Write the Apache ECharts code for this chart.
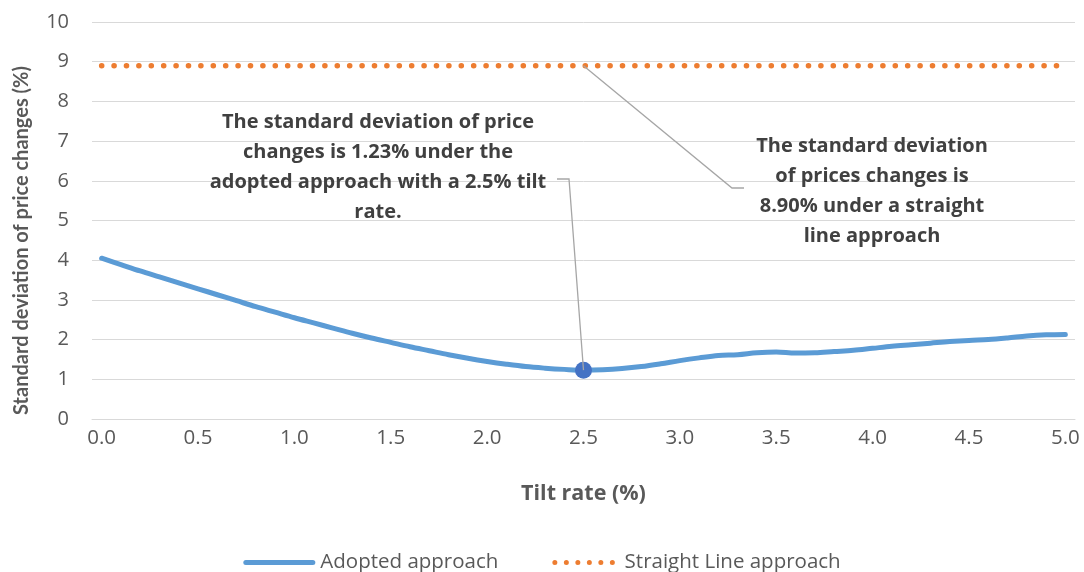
<!DOCTYPE html>
<html>
<head>
<meta charset="utf-8">
<script src="https://cdn.jsdelivr.net/npm/echarts@6/dist/echarts.min.js"></script>
<style>
  html, body { margin: 0; padding: 0; background: #ffffff; }
  #chart { width: 1084px; height: 572px; }
</style>
</head>
<body>
<div id="chart"></div>
<script>
// Tilt rate (%) categories, 0.0 to 5.0 in steps of 0.1
const tiltRates = [
  '0.0','0.1','0.2','0.3','0.4','0.5','0.6','0.7','0.8','0.9',
  '1.0','1.1','1.2','1.3','1.4','1.5','1.6','1.7','1.8','1.9',
  '2.0','2.1','2.2','2.3','2.4','2.5','2.6','2.7','2.8','2.9',
  '3.0','3.1','3.2','3.3','3.4','3.5','3.6','3.7','3.8','3.9',
  '4.0','4.1','4.2','4.3','4.4','4.5','4.6','4.7','4.8','4.9',
  '5.0'
];

// Standard deviation of price changes (%) under the adopted approach
const adoptedApproach = [
  4.05, 3.89, 3.73, 3.58, 3.43, 3.28, 3.13, 2.98, 2.83, 2.69,
  2.55, 2.42, 2.29, 2.16, 2.04, 1.93, 1.82, 1.72, 1.62, 1.53,
  1.45, 1.38, 1.32, 1.28, 1.25, 1.23, 1.24, 1.27, 1.32, 1.39,
  1.47, 1.54, 1.60, 1.62, 1.67, 1.69, 1.66, 1.67, 1.70, 1.73,
  1.78, 1.83, 1.87, 1.91, 1.95, 1.98, 2.00, 2.04, 2.09, 2.12,
  2.13
];

// Straight line approach: constant standard deviation
const straightLineApproach = [
  8.90, 8.90, 8.90, 8.90, 8.90, 8.90, 8.90, 8.90, 8.90, 8.90,
  8.90, 8.90, 8.90, 8.90, 8.90, 8.90, 8.90, 8.90, 8.90, 8.90,
  8.90, 8.90, 8.90, 8.90, 8.90, 8.90, 8.90, 8.90, 8.90, 8.90,
  8.90, 8.90, 8.90, 8.90, 8.90, 8.90, 8.90, 8.90, 8.90, 8.90,
  8.90, 8.90, 8.90, 8.90, 8.90, 8.90, 8.90, 8.90, 8.90, 8.90,
  8.90
];

// Highlighted point: adopted approach at a 2.5% tilt rate
const highlightRate = '2.5';
const highlightValue = 1.23;
const straightValue = 8.90;

const yTicks = { min: 0, max: 10, interval: 1 };

const note1 = 'The standard deviation of price\nchanges is 1.23% under the\nadopted approach with a 2.5% tilt\nrate.';
const note2 = 'The standard deviation\nof prices changes is\n8.90% under a straight\nline approach';

const FONT = '"Open Sans", Lato, sans-serif';
const FONT_V = 'Lato, "Open Sans", sans-serif';
const TEXT = '#595959';
const BLUE = '#5b9bd5';
const ORANGE = '#ed7d31';

// Legend icons: a solid rounded bar and a row of round dots
const barIcon = 'path://M2.5,0 L69.5,0 A2.5,2.5 0 0 1 69.5,5 L2.5,5 A2.5,2.5 0 0 1 2.5,0 Z';
let dotsPath = '';
for (let i = 0; i < 6; i++) {
  const cx = 2.5 + i * 11.5;
  dotsPath += 'M' + (cx - 2.5) + ',2.5 A2.5,2.5 0 1 0 ' + (cx + 2.5) + ',2.5 A2.5,2.5 0 1 0 ' + (cx - 2.5) + ',2.5 Z ';
}
const dotsIcon = 'path://' + dotsPath;

const chart = echarts.init(document.getElementById('chart'), null, { renderer: 'canvas' });

chart.setOption({
  animation: false,
  backgroundColor: '#ffffff',
  textStyle: { fontFamily: FONT },
  grid: { left: 92, right: 9, top: 22, bottom: 153, containLabel: false },
  legend: {
    top: 547,
    left: 'center',
    itemWidth: 72,
    itemHeight: 5,
    itemGap: 54,
    symbolKeepAspect: true,
    textStyle: { fontFamily: FONT, fontSize: 20.5, color: TEXT },
    data: [
      { name: 'Adopted approach', icon: barIcon, itemStyle: { color: BLUE } },
      { name: 'Straight Line approach', icon: dotsIcon, itemStyle: { color: ORANGE } }
    ]
  },
  xAxis: {
    type: 'category',
    data: tiltRates,
    boundaryGap: true,
    name: 'Tilt rate (%)',
    nameLocation: 'middle',
    nameGap: 64,
    nameTextStyle: { fontFamily: FONT, fontSize: 21.5, fontWeight: 'bold', color: TEXT },
    axisLine: { show: true, lineStyle: { color: '#d9d9d9', width: 1 } },
    axisTick: { show: false },
    axisLabel: { interval: 4, fontFamily: FONT, fontSize: 20.5, color: TEXT, margin: 9 },
    splitLine: { show: false }
  },
  yAxis: {
    type: 'value',
    min: yTicks.min,
    max: yTicks.max,
    interval: yTicks.interval,
    name: 'Standard deviation of price changes (%)',
    nameLocation: 'middle',
    nameGap: 60,
    nameMoveOverlap: false,
    nameTextStyle: {
      fontFamily: FONT_V, fontSize: 20, fontWeight: 'bold', color: TEXT,
      padding: [0, 40, 0, 0]
    },
    axisLine: { show: false },
    axisTick: { show: false },
    axisLabel: { fontFamily: FONT, fontSize: 20, color: TEXT, margin: 23 },
    splitLine: { show: true, lineStyle: { color: '#d9d9d9', width: 1 } }
  },
  series: [
    {
      name: 'Adopted approach',
      type: 'line',
      data: adoptedApproach,
      smooth: 0.35,
      symbol: 'none',
      itemStyle: { color: BLUE },
      lineStyle: { color: BLUE, width: 5, cap: 'round', join: 'round' },
      z: 3
    },
    {
      name: 'Straight Line approach',
      type: 'line',
      data: straightLineApproach,
      symbol: 'none',
      itemStyle: { color: ORANGE },
      lineStyle: { color: ORANGE, width: 5.5, type: [0.1, 12.3], cap: 'round' },
      z: 2
    },
    {
      name: 'highlight',
      type: 'scatter',
      data: [[highlightRate, highlightValue]],
      symbol: 'circle',
      symbolSize: 17,
      itemStyle: { color: '#4472c4', opacity: 1 },
      z: 4,
      silent: true
    }
  ]
});

// Callout notes with leader lines anchored to the data points
const p1 = chart.convertToPixel({ seriesIndex: 2 }, [highlightRate, highlightValue]);
const p2 = chart.convertToPixel({ seriesIndex: 1 }, [highlightRate, straightValue]);

const noteStyle = {
  fontFamily: FONT,
  fontSize: 20,
  fontWeight: 'bold',
  fill: '#404040',
  align: 'center',
  verticalAlign: 'top',
  lineHeight: 30
};

chart.setOption({
  graphic: [
    {
      type: 'text', z: 10,
      x: 378, y: 107,
      style: Object.assign({ text: note1 }, noteStyle)
    },
    {
      type: 'text', z: 10,
      x: 872, y: 131,
      style: Object.assign({ text: note2 }, noteStyle)
    },
    {
      type: 'polyline', z: 10,
      shape: { points: [[557, 179], [569, 179], [p1[0], p1[1]]] },
      style: { stroke: '#a6a6a6', lineWidth: 1.3, fill: null }
    },
    {
      type: 'polyline', z: 10,
      shape: { points: [[744, 188], [732, 188], [p2[0], p2[1]]] },
      style: { stroke: '#a6a6a6', lineWidth: 1.3, fill: null }
    }
  ]
});
</script>
</body>
</html>
